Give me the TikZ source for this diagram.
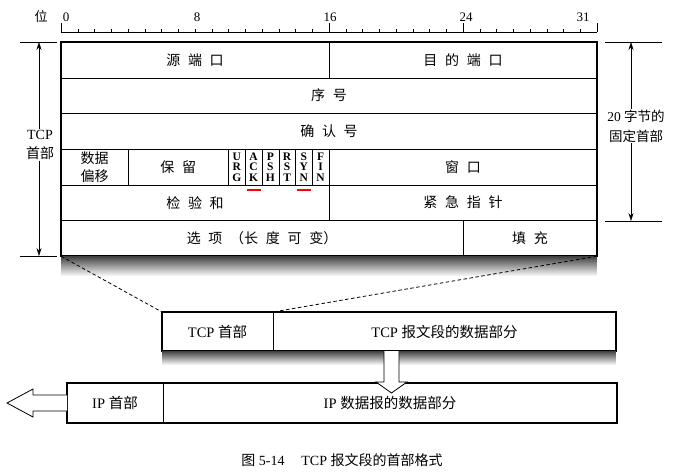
\documentclass[tikz,border=0pt]{standalone}
\usepackage{fontspec}
\setmainfont{Liberation Serif}
\newfontfamily\cjk{Noto Sans CJK SC}
\newcommand{\zh}[1]{{\cjk #1}}
\newcommand{\gp}{\hspace{0.55em}}
\usetikzlibrary{positioning,fadings,arrows.meta}

\begin{document}
\begin{tikzpicture}[x=1pt,y=-1pt,>={Stealth[length=8pt,width=5pt]},node distance=0pt,
    field/.style={draw,minimum height=35.7pt,inner sep=0pt,outer sep=0pt,font=\fontsize{14}{16}\selectfont},
    flag/.style={field,minimum width=16.75pt,align=center,font=\bfseries\fontsize{11.5}{10.5}\selectfont},
    seg/.style={draw,minimum height=39pt,inner sep=0pt,outer sep=0pt,font=\fontsize{14.5}{16}\selectfont},
    hollow/.style={draw,fill=white,line width=0.8pt}]
  \useasboundingbox (0,0) rectangle (680,475);

  % bit ruler
  \draw (61,32) -- (597,32);
  \foreach \i in {0,...,32} \draw (61+16.75*\i,32) -- ++(0,-3);
  \foreach \i in {0,16,24,32} \draw (61+16.75*\i,32) -- ++(0,-9);
  \foreach \i/\x in {0/66,8/197,16/330,24/466,31/583}
    \node[font=\fontsize{13}{15}\selectfont] at (\x,17) {\i};
  \node[font=\fontsize{13}{15}\selectfont] (bitlbl) at (41,16) {\zh{位}};

  % header fields
  \node[field,minimum width=268pt,anchor=north west] (srcport) at (61,42) {\zh{源\gp 端\gp 口}};
  \node[field,minimum width=268pt,right=of srcport] (dstport) {\zh{目\gp 的\gp 端\gp 口}};
  \node[field,minimum width=536pt,anchor=north west] (seqno) at (srcport.south west) {\zh{序\gp 号}};
  \node[field,minimum width=536pt,anchor=north west] (ackno) at (seqno.south west) {\zh{确\gp 认\gp 号}};
  \node[field,minimum width=67pt,anchor=north west,align=center,
        font=\fontsize{14}{18}\selectfont] (offset) at (ackno.south west) {\zh{数据}\\\zh{偏移}};
  \node[field,minimum width=100.5pt,right=of offset] (resv) {\zh{保\gp 留}};
  \node[flag,right=of resv] (urg) {U\\R\\G};
  \node[flag,right=of urg] (ack) {A\\C\\K};
  \node[flag,right=of ack] (psh) {P\\S\\H};
  \node[flag,right=of psh] (rst) {R\\S\\T};
  \node[flag,right=of rst] (syn) {S\\Y\\N};
  \node[flag,right=of syn] (fin) {F\\I\\N};
  \node[field,minimum width=268pt,right=of fin] (window) {\zh{窗\gp 口}};
  \node[field,minimum width=268pt,anchor=north west] (cksum) at (offset.south west) {\zh{检\gp 验\gp 和}};
  \node[field,minimum width=268pt,right=of cksum] (urgptr) {\zh{紧\gp 急\gp 指\gp 针}};
  \node[field,minimum width=402pt,anchor=north west] (opts) at (cksum.south west) {\zh{选\gp 项\gp （长\gp 度\gp 可\gp 变）}};
  \node[field,minimum width=134pt,right=of opts] (pad) {\zh{填\gp 充}};
  \draw[line width=1.6pt] (srcport.north west) rectangle (pad.south east);
  \fill[black!75,path fading=south] (opts.south west) rectangle ([yshift=-20pt]pad.south east);

  % flags in use
  \draw[red,line width=1.5pt] ([xshift=-7pt,yshift=-5pt]ack.south) -- ++(14,0);
  \draw[red,line width=1.5pt] ([xshift=-7pt,yshift=-5pt]syn.south) -- ++(14,0);

  % header size marks
  \coordinate (la) at (39,42);
  \coordinate (lb) at (39,256);
  \draw (20,42) -- (57,42);
  \draw (20,256) -- (57,256);
  \draw[<->] (la) -- (lb);
  \node[fill=white,align=center,inner sep=1pt,font=\fontsize{14}{19}\selectfont] (tcplen) at (40,145) {TCP\\\zh{首部}};
  \coordinate (ra) at (631,42);
  \coordinate (rb) at (631,221);
  \draw (605,42) -- (662,42);
  \draw (605,221) -- (662,221);
  \draw[<->] (ra) -- (rb);
  \node[fill=white,align=center,inner sep=1pt,font=\fontsize{13.5}{20}\selectfont] (fixlen) at (636,126) {20 \zh{字节的}\\\zh{固定首部}};

  % TCP segment
  \node[seg,minimum width=111pt,anchor=north west] (tcphdr) at (162,312) {TCP \zh{首部}};
  \node[seg,minimum width=343pt,right=of tcphdr] (tcpdata) {TCP \zh{报文段的数据部分}};
  \draw[line width=1.6pt] (tcphdr.north west) rectangle (tcpdata.south east);
  \fill[black!75,path fading=south] (tcphdr.south west) rectangle ([yshift=-14pt]tcpdata.south east);
  \draw[dashed,line width=0.8pt,dash pattern=on 3.5pt off 2.5pt] (opts.south west) -- (tcphdr.north west);
  \draw[dashed,line width=0.8pt,dash pattern=on 3.5pt off 2.5pt] (pad.south east) -- (tcphdr.north east);

  % IP datagram
  \node[seg,minimum width=96pt,minimum height=40pt,anchor=north west] (iphdr) at (67,383) {IP \zh{首部}};
  \node[seg,minimum width=454pt,minimum height=40pt,right=of iphdr] (ipdata) {IP \zh{数据报的数据部分}};
  \draw[line width=1.6pt] (iphdr.north west) rectangle (ipdata.south east);

  % hollow arrows
  \coordinate (dn) at (391.5,351);
  \draw[hollow] (dn) +(-7.5,0) -- +(-7.5,31) -- +(-15.5,31) -- +(0,42) -- +(15.5,31) -- +(7.5,31) -- +(7.5,0);
  \draw[hollow] (iphdr.west) +(0,-8) -- +(-34,-8) -- +(-34,-14) -- +(-60,0) -- +(-34,14) -- +(-34,8) -- +(0,8);

  \node[font=\fontsize{14}{16}\selectfont] (caption) at (342,460) {\zh{图} 5-14\hspace{1.2em}TCP \zh{报文段的首部格式}};
\end{tikzpicture}
\end{document}
